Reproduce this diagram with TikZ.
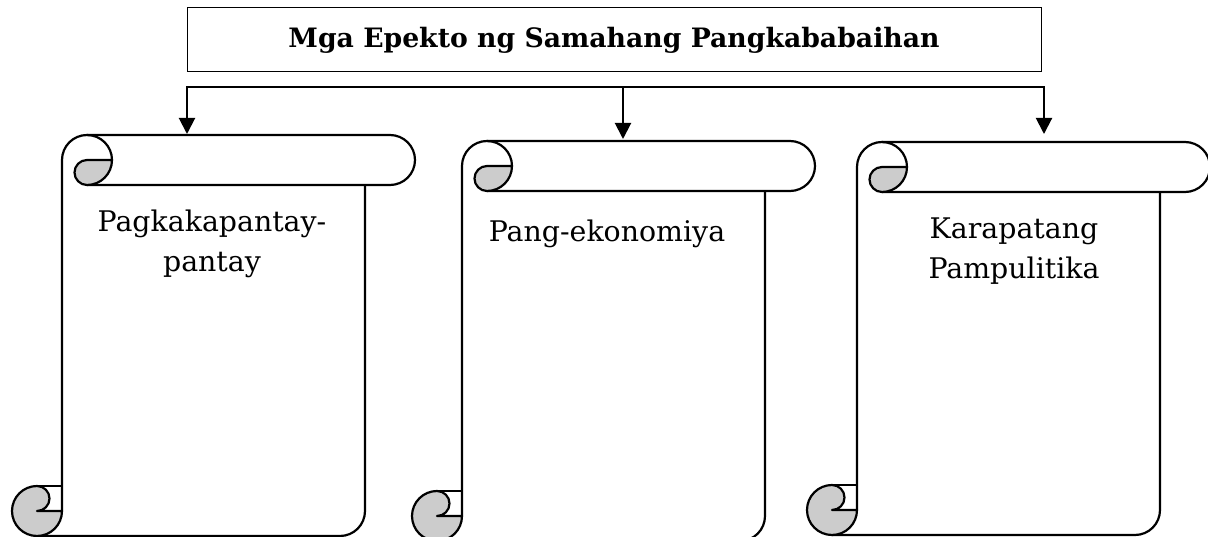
\documentclass[tikz,border=0pt]{standalone}
\usepackage{fontspec}
\setmainfont{DejaVu Serif}
\usetikzlibrary{arrows.meta}
\definecolor{curlgray}{HTML}{CCCCCC}
\tikzset{
  scrollline/.style={line width=2.2pt, line join=round, draw=black},
  titlebox/.style={draw=black, line width=1pt, minimum width=854pt, minimum height=64pt, inner sep=0pt,
    font=\fontsize{26.7}{32}\selectfont\bfseries},
  busline/.style={line width=2pt, line cap=rect},
  busarrow/.style={line width=2pt, -{Triangle[width=16pt,length=16pt]}},
  scrolltext/.style={align=center, anchor=base, inner sep=0pt, font=\fontsize{28.4}{40}\selectfont}
}
\newcommand{\drawscroll}[3]{%
  \begin{scope}[shift={(#1,#2)}]
    \pgfmathsetmacro{\scrH}{#3}
    % outer outline: body left, top roll
    \draw[scrollline] (0,\scrH-25) -- (0,25) arc[start angle=180,end angle=270,radius=25]
      -- (328,0) arc[start angle=270,end angle=450,radius=25] -- (25,50);
    % body right and bottom
    \draw[scrollline] (303,50) -- (303,\scrH-25) arc[start angle=0,end angle=90,radius=25] -- (-25,\scrH);
    % bottom curl
    \filldraw[scrollline, fill=curlgray] (-25,\scrH-50) arc[start angle=270,end angle=450,radius=12.5]
      -- (0,\scrH-25) arc[start angle=0,end angle=270,radius=25] -- cycle;
    \draw[scrollline] (-25,\scrH-50) -- (0,\scrH-50);
    % top curl
    \filldraw[scrollline, fill=curlgray] (25,25) -- (50,25) arc[start angle=0,end angle=90,radius=25]
      arc[start angle=90,end angle=270,radius=12.5] -- cycle;
    \draw[scrollline] (25,0) arc[start angle=270,end angle=360,radius=25];
  \end{scope}}
\begin{document}
\begin{tikzpicture}[x=1pt,y=1pt,yscale=-1]
  \useasboundingbox[fill=white] (0,0) rectangle (1208,537);
  % title
  \node[titlebox] (title) at (614,40) {Mga Epekto ng Samahang Pangkababaihan};
  % scrolls
  \drawscroll{62}{135}{401}
  \drawscroll{462}{141}{400}
  \drawscroll{857}{142}{393}
  % texts (base anchor sits on the last line)
  \node[scrolltext] (t1) at (212,272) {Pagkakapantay-\\pantay};
  \node[scrolltext] (t2) at (607,242) {Pang-ekonomiya};
  \node[scrolltext] (t3) at (1014,279) {Karapatang\\Pampulitika};
  % connectors
  \coordinate (b1) at (187,87);
  \coordinate (b2) at (623,87);
  \coordinate (b3) at (1044,87);
  \coordinate (e1) at (187,134);
  \coordinate (e2) at (623,139);
  \coordinate (e3) at (1044,134);
  \draw[busline] (b1) -- (b3);
  \draw[busarrow] (b1) -- (e1);
  \draw[busarrow] (b2) -- (e2);
  \draw[busarrow] (b3) -- (e3);
\end{tikzpicture}
\end{document}
